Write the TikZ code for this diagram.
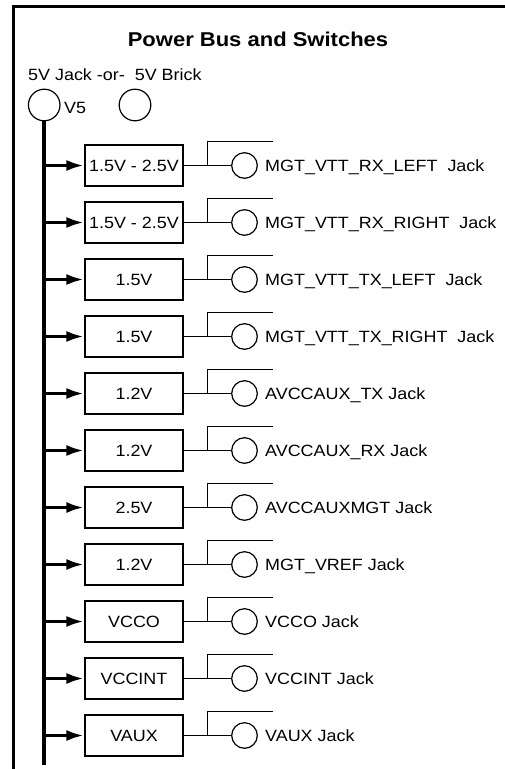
\documentclass[tikz,border=0pt]{standalone}
\usepackage{fontspec}
\setmainfont[FakeStretch=1.1]{Liberation Sans}
\usetikzlibrary{calc, positioning, arrows.meta}

\begin{document}
\begin{tikzpicture}[x=1pt, y=-1pt,
  regbox/.style={draw, line width=1.2pt, minimum width=98pt, minimum height=41pt,
                 inner sep=0pt, font=\fontsize{16.3}{19}\selectfont},
  jack/.style={draw, circle, line width=1.2pt, minimum size=25.6pt, inner sep=0pt},
  srcjack/.style={draw, circle, line width=1.2pt, minimum size=31.6pt, inner sep=0pt},
  jlabel/.style={anchor=base west, inner sep=0pt, font=\fontsize{16.3}{19}\selectfont},
  feed/.style={line width=3.8pt, -{Latex[length=18pt, width=11pt]}},
  bus/.style={line width=3.8pt},
  wire/.style={line width=1.2pt},
  frame/.style={line width=3pt},
]
\useasboundingbox (0,0) rectangle (505,769);

% frame
\coordinate (fbot) at (13.3,769);
\coordinate (fcorner) at (13.3,6.7);
\coordinate (fright) at (505,6.7);
\draw[frame] (fbot) -- (fcorner) -- (fright);

% heading and supply
\node[font=\fontsize{20}{24}\selectfont\bfseries, anchor=base, inner sep=0pt] (title)
  at (258,46.7) {Power Bus and Switches};
\node[jlabel] (src) at (28,80) {5V Jack -or-~ 5V Brick};
\node[srcjack] (vin) at (44.2,105) {};
\node[srcjack] (brick) at (135,105) {};
\node[jlabel] (v5) at (64,113.3) {V5};
\coordinate (busend) at (44.2,765);
\draw[bus] (vin.south) -- (busend);

% regulators
\node[regbox] (reg1) at (134,165.5) {1.5V - 2.5V};
\node[regbox] (reg2) at (134,222.5) {1.5V - 2.5V};
\node[regbox] (reg3) at (134,279.5) {1.5V};
\node[regbox] (reg4) at (134,336.5) {1.5V};
\node[regbox] (reg5) at (134,393.5) {1.2V};
\node[regbox] (reg6) at (134,450.5) {1.2V};
\node[regbox] (reg7) at (134,507.5) {2.5V};
\node[regbox] (reg8) at (134,564.5) {1.2V};
\node[regbox] (reg9) at (134,621.5) {VCCO};
\node[regbox] (reg10) at (134,678.5) {VCCINT};
\node[regbox] (reg11) at (134,735.5) {VAUX};

% output jacks
\foreach \i in {1,...,11}
  \node[jack] (jk\i) at ($(reg\i.center)+(110.5,0)$) {};

\node[jlabel] (lbl1) at ($(jk1.center)+(20.5,5.8)$) {MGT\_VTT\_RX\_LEFT~ Jack};
\node[jlabel] (lbl2) at ($(jk2.center)+(20.5,5.8)$) {MGT\_VTT\_RX\_RIGHT~ Jack};
\node[jlabel] (lbl3) at ($(jk3.center)+(20.5,5.8)$) {MGT\_VTT\_TX\_LEFT~ Jack};
\node[jlabel] (lbl4) at ($(jk4.center)+(20.5,5.8)$) {MGT\_VTT\_TX\_RIGHT~ Jack};
\node[jlabel] (lbl5) at ($(jk5.center)+(20.5,5.8)$) {AVCCAUX\_TX Jack};
\node[jlabel] (lbl6) at ($(jk6.center)+(20.5,5.8)$) {AVCCAUX\_RX Jack};
\node[jlabel] (lbl7) at ($(jk7.center)+(20.5,5.8)$) {AVCCAUXMGT Jack};
\node[jlabel] (lbl8) at ($(jk8.center)+(20.5,5.8)$) {MGT\_VREF Jack};
\node[jlabel] (lbl9) at ($(jk9.center)+(20.5,5.8)$) {VCCO Jack};
\node[jlabel] (lbl10) at ($(jk10.center)+(20.5,5.8)$) {VCCINT Jack};
\node[jlabel] (lbl11) at ($(jk11.center)+(20.5,5.8)$) {VAUX Jack};

% connectors
\foreach \i in {1,...,11} {
  \draw[feed] (reg\i.west -| busend) -- (reg\i.west);
  \draw[wire] (reg\i.east) -- (jk\i.west);
  \draw[wire] ($(reg\i.east)+(24,0)$) |- ($(reg\i.east)+(89,-24)$);
}
\end{tikzpicture}
\end{document}
